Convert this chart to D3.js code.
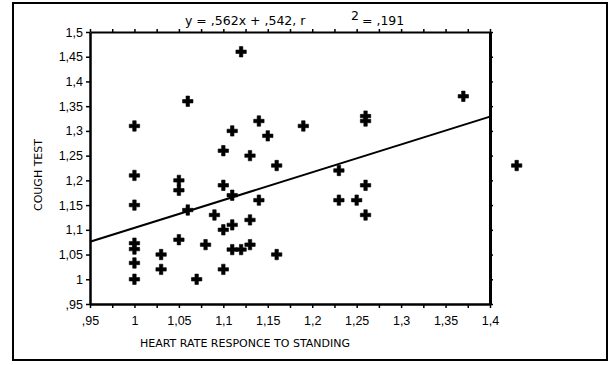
<!DOCTYPE html>
<html>
<head>
<meta charset="utf-8">
<script src="https://cdn.jsdelivr.net/npm/d3@7"></script>
<style>
  body { margin: 0; background: #fff; }
  svg { display: block; font-family: "DejaVu Sans", sans-serif; }
</style>
</head>
<body>
<div id="chart"></div>
<script>
const width = 609;
const height = 365;

// heart rate responce to standing (x) and cough test (y)
const heartRate = [1, 1, 1, 1, 1, 1, 1, 1.03, 1.03, 1.05, 1.05, 1.05, 1.06, 1.06, 1.07, 1.08, 1.09,
  1.1, 1.1, 1.1, 1.1, 1.11, 1.11, 1.11, 1.11, 1.12, 1.12, 1.13, 1.13, 1.13, 1.14, 1.14, 1.15,
  1.16, 1.16, 1.19, 1.23, 1.23, 1.25, 1.26, 1.26, 1.26, 1.26, 1.37, 1.43];
const coughTest = [1.31, 1.21, 1.15, 1.073, 1.061, 1.033, 1.0, 1.05, 1.02, 1.2, 1.18, 1.08, 1.36, 1.14, 1.0, 1.07, 1.13,
  1.26, 1.19, 1.1, 1.02, 1.3, 1.17, 1.11, 1.06, 1.46, 1.06, 1.25, 1.12, 1.07, 1.32, 1.16, 1.29,
  1.23, 1.05, 1.31, 1.22, 1.16, 1.16, 1.33, 1.32, 1.19, 1.13, 1.37, 1.23];

// fit: y = ,562x + ,542
const slope = 0.562;
const intercept = 0.542;

const xTicks = [0.95, 0.975, 1, 1.025, 1.05, 1.075, 1.1, 1.125, 1.15, 1.175, 1.2, 1.225, 1.25, 1.275, 1.3, 1.325, 1.35, 1.375, 1.4];
const xLabels = [0.95, 1, 1.05, 1.1, 1.15, 1.2, 1.25, 1.3, 1.35, 1.4];
const yTicks = [0.95, 1, 1.05, 1.1, 1.15, 1.2, 1.25, 1.3, 1.35, 1.4, 1.45, 1.5];

const margin = {top: 32, left: 90, right: 119, bottom: 61};

const x = d3.scaleLinear().domain([0.95, 1.4]).range([margin.left, width - margin.right]);
const y = d3.scaleLinear().domain([0.95, 1.5]).range([height - margin.bottom, margin.top]);

// ,95 / 1 / 1,05 style
const fmt = (v) => {
  let s = v.toFixed(2).replace(/0+$/, '').replace(/\.$/, '');
  if (s.startsWith('0')) s = s.slice(1);
  return s.replace('.', ',');
};

const svg = d3.select('#chart').append('svg')
  .attr('width', width)
  .attr('height', height);

// outer frame
svg.append('rect')
  .attr('x', 13).attr('y', 3)
  .attr('width', 594).attr('height', 357)
  .attr('fill', 'none')
  .attr('stroke', '#000')
  .attr('stroke-width', 2);

const styleAxis = (g, w) => {
  g.select('.domain').attr('stroke-width', w);
  g.selectAll('.tick line').attr('stroke-width', 1.5);
  g.selectAll('.tick text').attr('fill', '#000').style('font-size', '12.5px');
};

svg.append('g')
  .attr('transform', `translate(0,${y(0.95)})`)
  .call(d3.axisBottom(x).tickValues(xTicks).tickSizeInner(4).tickSizeOuter(0).tickPadding(8)
    .tickFormat(d => xLabels.some(v => Math.abs(v - d) < 1e-6) ? fmt(d) : ''))
  .call(g => styleAxis(g, 2.5));

svg.append('g')
  .attr('transform', `translate(0,${y(1.5)})`)
  .call(d3.axisTop(x).tickValues(xTicks).tickSizeInner(3).tickSizeOuter(0).tickFormat(''))
  .call(g => styleAxis(g, 2));

svg.append('g')
  .attr('transform', `translate(${x(0.95)},0)`)
  .call(d3.axisLeft(y).tickValues(yTicks).tickSizeInner(4).tickSizeOuter(0).tickPadding(3).tickFormat(fmt))
  .call(g => styleAxis(g, 2.5));

svg.append('g')
  .attr('transform', `translate(${x(1.4)},0)`)
  .call(d3.axisRight(y).tickValues(yTicks).tickSizeInner(3).tickSizeOuter(0).tickFormat(''))
  .call(g => styleAxis(g, 3));

// regression line
const xs = x.domain();
svg.append('line')
  .attr('x1', x(xs[0])).attr('y1', y(slope * xs[0] + intercept))
  .attr('x2', x(xs[1])).attr('y2', y(slope * xs[1] + intercept))
  .attr('stroke', '#000')
  .attr('stroke-width', 2);

// points
const cross = d3.symbol().type(d3.symbolCross).size(60);
svg.append('g').selectAll('path')
  .data(heartRate.map((v, i) => [v, coughTest[i]]))
  .join('path')
  .attr('transform', d => `translate(${x(d[0])},${y(d[1])})`)
  .attr('d', cross)
  .attr('fill', '#000')
  .attr('stroke', '#000')
  .attr('stroke-width', 0.6)
  .attr('stroke-linejoin', 'round');

// titles
const title = svg.append('g').style('font-size', '12.5px');
title.append('text').attr('x', 185).attr('y', 25).text('y = ,562x + ,542, r');
title.append('text').attr('x', 351).attr('y', 20).text('2');
title.append('text').attr('x', 362).attr('y', 25).text('= ,191');

svg.append('text')
  .attr('x', 245).attr('y', 347)
  .attr('text-anchor', 'middle')
  .style('font-size', '11px')
  .text('HEART RATE RESPONCE TO STANDING');

svg.append('text')
  .attr('transform', 'translate(42,175) rotate(-90)')
  .attr('text-anchor', 'middle')
  .style('font-size', '11px')
  .text('COUGH TEST');
</script>
</body>
</html>
